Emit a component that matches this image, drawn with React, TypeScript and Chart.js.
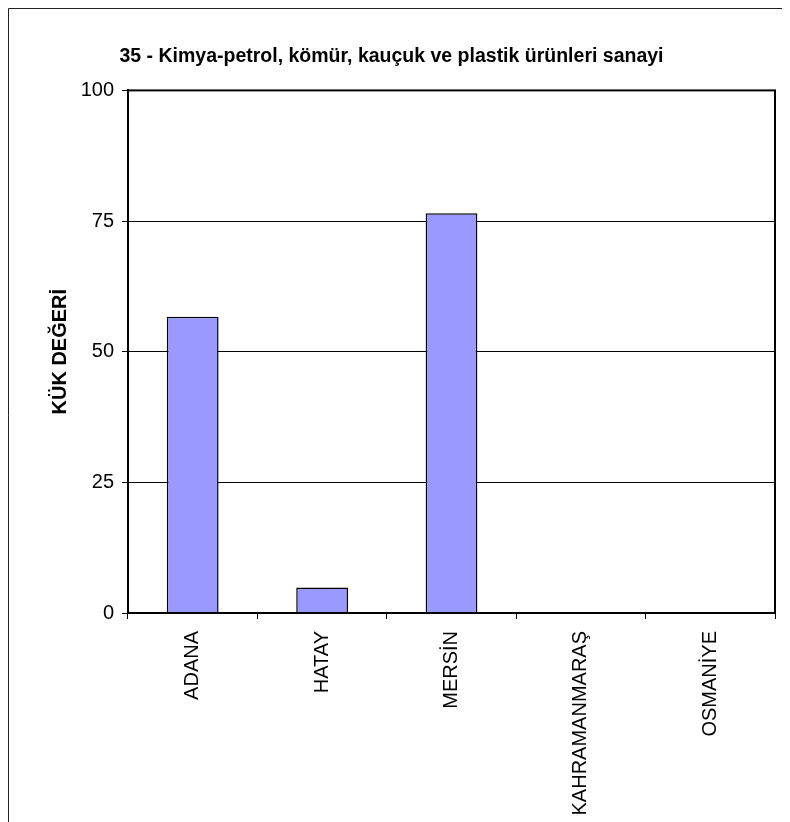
import React, { useEffect, useRef } from 'react';
import { Chart, registerables } from 'chart.js';

Chart.register(...registerables);

const categories = ['ADANA', 'HATAY', 'MERSİN', 'KAHRAMANMARAŞ', 'OSMANİYE'];
const values = [56.7, 4.9, 76.5, 0, 0];
const yMin = 0;
const yMax = 100;
const yStep = 25;
const chartTitle = '35 - Kimya-petrol, kömür, kauçuk ve plastik ürünleri sanayi';
const yTitle = 'KÜK DEĞERİ';

const FONT = '"Liberation Sans", Arial, Helvetica, sans-serif';

const framePlugin = {
  id: 'frame',
  afterDraw(chart: any) {
    const { ctx, chartArea } = chart;
    const { left, top, right, bottom } = chartArea;
    ctx.save();
    ctx.strokeStyle = '#000';
    ctx.lineWidth = 2;
    ctx.strokeRect(left, top, right - left, bottom - top);
    ctx.lineWidth = 1;
    ctx.strokeStyle = '#222';
    ctx.beginPath();
    ctx.moveTo(0.5, chart.height);
    ctx.lineTo(0.5, 0.5);
    ctx.lineTo(chart.width - 0.5, 0.5);
    ctx.lineTo(chart.width - 0.5, chart.height);
    ctx.stroke();
    ctx.restore();
  },
};

export default function App() {
  const ref = useRef<HTMLCanvasElement | null>(null);

  useEffect(() => {
    if (!ref.current) return;
    const chart = new Chart(ref.current, {
      type: 'bar',
      data: {
        labels: categories,
        datasets: [
          {
            data: values,
            backgroundColor: '#9999FF',
            borderColor: '#000',
            borderWidth: 1.5,
            barPercentage: 0.4,
            categoryPercentage: 1.0,
          },
        ],
      },
      options: {
        responsive: false,
        animation: false,
        devicePixelRatio: 1,
        layout: { padding: { left: 0, right: 15, top: 0, bottom: 0 } },
        plugins: {
          legend: { display: false },
          tooltip: { enabled: false },
          title: {
            display: true,
            text: chartTitle,
            color: '#000',
            font: { family: FONT, size: 19.5, weight: 'bold' },
            padding: { top: 37, bottom: 22 },
          },
        },
        scales: {
          x: {
            offset: true,
            grid: {
              offset: true,
              drawOnChartArea: false,
              drawTicks: true,
              tickLength: 6,
              color: '#000',
              tickColor: '#000',
            },
            border: { display: true, color: '#000', width: 2 },
            ticks: {
              color: '#000',
              font: { family: FONT, size: 20 },
              minRotation: 90,
              maxRotation: 90,
              autoSkip: false,
              padding: 12,
            },
            afterFit(scale: any) {
              scale.height = 209;
            },
          },
          y: {
            min: yMin,
            max: yMax,
            grid: {
              color: '#000',
              tickColor: '#000',
              tickLength: 6,
              lineWidth: 1,
            },
            border: { display: true, color: '#000', width: 2 },
            ticks: {
              stepSize: yStep,
              color: '#000',
              font: { family: FONT, size: 20 },
              padding: 8,
            },
            title: {
              display: true,
              text: yTitle,
              color: '#000',
              font: { family: FONT, size: 20, weight: 'bold' },
              padding: { top: 40, bottom: 0 },
            },
            afterFit(scale: any) {
              scale.width = 120;
            },
          },
        },
      },
      plugins: [framePlugin],
    });
    return () => chart.destroy();
  }, []);

  return (
    <div style={{ width: 782, height: 814 }}>
      <canvas ref={ref} width={782} height={814} style={{ display: 'block' }} />
    </div>
  );
}
